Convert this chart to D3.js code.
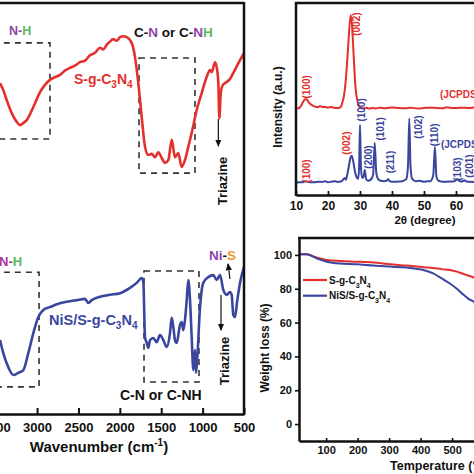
<!DOCTYPE html>
<html><head><meta charset="utf-8">
<script src="https://cdn.jsdelivr.net/npm/d3@7"></script>
<style>
body{margin:0;background:#fff}
svg{display:block}
text{font-family:"Liberation Sans",Arial,sans-serif;font-weight:bold}
</style>
</head><body>
<svg id="c" width="474" height="474"></svg>
<script>
// ---------- FTIR data ----------
const ftirTicks = [500,1000,1500,2000,2500,3000,3500,4000];
const ftirRedWn = [3448,3408,3367,3306,3250,3206,3160,3125,3045,2964,2900,2844,2780,2723,2660,2602,2540,2481,2420,2360,2300,2240,2200,2159,2120,2079,2040,1998,1960,1917,1857,1817,1777,1736,1696,1656,1615,1575,1535,1494,1454,1414,1373,1334,1294,1253,1213,1173,1132,1071,1011,951,911,890,850,830,810,798,781,757,709,669,629,590,548,500];
const ftirRedT  = [80.5,78.8,76.4,73.2,71.2,70.3,70.9,71.5,74.7,78.3,80.2,81.3,82.0,82.5,83.6,84.2,84.8,85.6,86.0,87.3,87.9,89.1,88.7,89.8,90.6,91.2,90.8,91.7,91.9,91.7,90.3,86.9,80.5,72.3,65.0,63.0,63.3,62.5,63.7,62.3,61.1,61.8,66.7,62.5,63.5,60.1,61.8,65.0,68.4,74.0,78.1,82.0,83.7,83.2,85.6,84.4,80.5,72.0,78.1,80.0,80.8,81.5,83.0,84.5,86.1,87.8];
const ftirBlueWn = [3448,3408,3348,3287,3227,3166,3106,3045,2985,2924,2844,2743,2642,2521,2421,2381,2340,2240,2119,1998,1877,1796,1736,1716,1696,1675,1656,1635,1595,1555,1515,1475,1434,1394,1374,1354,1334,1313,1273,1253,1233,1213,1192,1173,1152,1132,1112,1092,1080,1064,1031,992,931,871,830,790,750,709,669,649,629,609,581,548,500];
const ftirBlueT  = [18.0,14.8,11.4,9.5,10.0,10.7,14.8,19.7,23.6,25.3,26.0,26.8,27.3,27.7,28.0,27.0,27.7,28.5,29.0,29.4,30.7,31.9,33.1,32.1,18.7,17.3,16.1,18.0,18.5,17.5,19.2,18.0,16.3,19.7,23.4,21.2,18.0,17.3,21.7,22.4,20.4,22.9,27.7,32.6,27.7,18.7,10.7,15.6,10.0,13.9,26.0,31.9,33.3,33.8,32.6,33.8,30.2,29.0,29.7,29.0,24.1,23.6,27.7,31.9,35.8];

// ---------- XRD data ----------
const xrdTicks = [10,20,30,40,50,60,70,80];
const xrdRedTheta = [10,10.5,11,11.5,12,12.5,13,13.5,14,14.5,15,16,17,17.5,18,19,20,21,22,23,24,24.5,25,25.5,26,26.5,27.1,27.5,27.8,28.2,28.6,29.1,29.7,30.2,31,32,33,34,35,36,38,40,42,44,46,48,50,52,54,56,57,58,60,62,64,66,68,70];
const xrdRedI     = [0,0.3,0.5,1.5,3,4.5,5.2,4.7,3.5,2.6,2,1.2,1,1.5,1.2,1,0.8,1,0.6,0.5,1,3.5,7,14,25,38,49,44,35,22,11,5,1.5,0.5,0.3,0.6,0.2,0.5,0.3,0.6,0.4,0.8,0.5,0.4,0.6,0.3,0.5,0.7,0.5,0.4,0.9,0.6,0.5,0.7,0.5,0.8,0.6,0.7];
const xrdBlueTheta = [10,11,12,13,14,15,16,17,18,19,20,21,22,23,24,24.6,25.2,25.6,26,26.5,27,27.4,27.9,28.4,28.9,29.4,29.7,30,30.3,30.7,31.1,31.5,31.9,32.5,33.3,34.1,34.6,35.1,35.6,36.5,37.5,38.3,38.8,39.3,40.5,42,43.2,43.8,44.5,45,45.4,45.8,46.3,47.5,48.5,50,51,52,52.9,53.4,53.9,54.5,56,58,59.5,60.5,61,61.8,62.6,63.3,64,66,68,70];
const xrdBlueI     = [0,0.3,0.2,0.8,0.4,0.2,0.3,0.5,0.4,0.7,0.3,0.5,0.8,0.4,0.6,1.4,2.5,1.6,4,8.5,13,14,11,6,3,2,7,30,8,2.5,3,6.6,2,1,1.5,4,20.7,5,2,1,0.8,1,1.8,0.8,0.5,0.6,0.7,1.2,2,9,33.5,8,2,0.8,1,0.5,0.7,0.8,4,18.6,3,1,0.5,0.6,0.8,1.8,1,0.6,1.3,0.6,0.5,0.4,0.6,0.5];
const xrdOffsets = {red:44.8, blue:6.4};
const xrdRedLabels  = ["(100)","(002)"];
const xrdRedLabelTheta = [13.3,29.0];
const xrdRedLabelLevel = [56.3,89];
const xrdBlueLabels = ["(100)","(002)","(100)","(200)","(101)","(211)","(102)","(110)","(103)","(201)"];
const xrdBlueLabelTheta = [13.4,25.8,30.5,32.6,36.25,39.4,48.2,53.3,60.6,64.1];
const xrdBlueLabelLevel = [12.5,27,44.3,19.8,34.4,17.2,35.4,31.3,13.5,15.1];
const xrdBlueLabelRed = [true,true,false,false,false,false,false,false,false,false];

// ---------- TGA data ----------
const tgaXTicks = [100,200,300,400,500];
const tgaYTicks = [0,20,40,60,80,100];
const tgaTemp = [14,38,70,102,144,197,250,303,356,409,440,467,493,515,536,551,570,600];
const tgaRed  = [100.4,100.4,98.5,97,96.4,96,95.5,94.5,93.7,92.7,92.3,91.6,91.1,90.1,88.7,87.8,86.5,84];
const tgaBlue = [100.4,100.4,98,96,94.9,94.5,93.7,93.1,92.5,91.1,89.1,86.1,83.1,80,76.5,74.2,72.2,68];

// ---------- style ----------
const RED="#e4302c", BLUE="#3a469e", PURPLE="#8e44ad", GREEN="#5cb85c", ORANGE="#f0952e", MAG="#a8359c";
const svg = d3.select("#c");
const defs = svg.append("defs");
defs.append("marker").attr("id","arr").attr("viewBox","0 0 8 8").attr("refX",7).attr("refY",4)
  .attr("markerWidth",6).attr("markerHeight",6).attr("orient","auto")
  .append("path").attr("d","M0,0.5 L8,4 L0,7.5 Z").attr("fill","#111");

function chem(t, parts, subSize){
  parts.forEach(p=>{
    const ts = t.append("tspan").text(p.t);
    if(p.sub){ ts.attr("dy",4).attr("font-size",subSize); }
    else if(p.after){ ts.attr("dy",-4); }
    if(p.fill) ts.attr("fill",p.fill);
  });
}

// ================= FTIR panel =================
const xF = d3.scaleLinear().domain([4000,500]).range([-45.7,244]);
const yF = d3.scaleLinear().domain([0,100]).range([414,3]);
defs.append("clipPath").attr("id","clipF").append("rect").attr("x",-46).attr("y",3).attr("width",290).attr("height",411);
const gF = svg.append("g");
const lineF = d3.line().x(d=>xF(d[0])).y(d=>yF(d[1])).curve(d3.curveMonotoneX);

// dashed boxes (data coords)
const boxes = [[3800,2844,90.3,66.9],[1768,1092,86.6,58.6],[3800,2976,34.5,6.6],[1708,1044,34.8,7.8]];
gF.append("g").attr("clip-path","url(#clipF)").selectAll("rect").data(boxes).join("rect")
  .attr("x",d=>xF(d[0])).attr("y",d=>yF(d[2])).attr("width",d=>xF(d[1])-xF(d[0])).attr("height",d=>yF(d[3])-yF(d[2]))
  .attr("fill","none").attr("stroke","#333").attr("stroke-width",1.6).attr("stroke-dasharray","6,5");

const cF = gF.append("g").attr("clip-path","url(#clipF)");
cF.append("path").datum(ftirRedWn.map((w,i)=>[w,ftirRedT[i]])).attr("d",lineF)
  .attr("fill","none").attr("stroke",RED).attr("stroke-width",2.6).attr("stroke-linejoin","round");
cF.append("path").datum(ftirBlueWn.map((w,i)=>[w,ftirBlueT[i]])).attr("d",lineF)
  .attr("fill","none").attr("stroke",BLUE).attr("stroke-width",2.6).attr("stroke-linejoin","round");

// frame
gF.append("line").attr("x1",-46).attr("x2",244).attr("y1",3).attr("y2",3).attr("stroke","#111").attr("stroke-width",2.5);
gF.append("line").attr("x1",244).attr("x2",244).attr("y1",2).attr("y2",415).attr("stroke","#111").attr("stroke-width",2.5);
const axF = gF.append("g").attr("transform","translate(0,414)")
  .call(d3.axisBottom(xF).tickValues(ftirTicks).tickSizeInner(-6).tickSizeOuter(0).tickPadding(9).tickFormat(d3.format("d")));
axF.select(".domain").attr("stroke","#111").attr("stroke-width",2.5);
axF.selectAll(".tick line").attr("stroke","#111").attr("stroke-width",2);
axF.selectAll(".tick text").attr("font-size",13).attr("fill","#111").attr("font-family","Liberation Sans, Arial, sans-serif").attr("font-weight","bold");
const wt = gF.append("text").attr("x",99).attr("y",452).attr("text-anchor","middle").attr("font-size",15).attr("fill","#111");
wt.append("tspan").text("Wavenumber (cm");
wt.append("tspan").text("-1").attr("font-size",10).attr("dy",-6);
wt.append("tspan").text(")").attr("dy",6);

// FTIR annotations
let t;
t = gF.append("text").attr("x",9).attr("y",35).attr("font-size",12.5);
t.append("tspan").text("N").attr("fill",PURPLE); t.append("tspan").text("-").attr("fill",PURPLE); t.append("tspan").text("H").attr("fill",GREEN);
t = gF.append("text").attr("x",134).attr("y",37).attr("font-size",13.5).attr("fill","#111");
t.append("tspan").text("C-"); t.append("tspan").text("N").attr("fill",PURPLE); t.append("tspan").text(" or C-");
t.append("tspan").text("N").attr("fill",PURPLE); t.append("tspan").text("H").attr("fill",GREEN);
t = gF.append("text").attr("x",74).attr("y",84).attr("font-size",14).attr("fill",RED);
chem(t,[{t:"S-g-C"},{t:"3",sub:true},{t:"N",after:true},{t:"4",sub:true}],10);
gF.append("text").attr("transform","translate(226.5,181) rotate(-90)").attr("text-anchor","middle").attr("font-size",13).attr("fill","#111").text("Triazine");
gF.append("line").attr("x1",xF(810)).attr("x2",xF(810)).attr("y1",yF(72)+1).attr("y2",146).attr("stroke","#111").attr("stroke-width",1.2).attr("marker-end","url(#arr)");

t = gF.append("text").attr("x",-1).attr("y",266).attr("font-size",13);
t.append("tspan").text("N").attr("fill",MAG); t.append("tspan").text("-").attr("fill",MAG); t.append("tspan").text("H").attr("fill",GREEN);
t = gF.append("text").attr("x",49).attr("y",325).attr("font-size",14.5).attr("fill",BLUE);
chem(t,[{t:"NiS/S-g-C"},{t:"3",sub:true},{t:"N",after:true},{t:"4",sub:true}],10);
gF.append("text").attr("x",120).attr("y",400).attr("font-size",14).attr("fill","#111").text("C-N or C-NH");
t = gF.append("text").attr("x",209).attr("y",260).attr("font-size",13.5);
t.append("tspan").text("Ni").attr("fill",PURPLE); t.append("tspan").text("-").attr("fill","#111"); t.append("tspan").text("S").attr("fill",ORANGE);
gF.append("line").attr("x1",230).attr("x2",228).attr("y1",279).attr("y2",264).attr("stroke","#111").attr("stroke-width",1.2).attr("marker-end","url(#arr)");
gF.append("line").attr("x1",221).attr("x2",221).attr("y1",295).attr("y2",330).attr("stroke","#111").attr("stroke-width",1.2).attr("marker-end","url(#arr)");
gF.append("text").attr("transform","translate(229,361) rotate(-90)").attr("text-anchor","middle").attr("font-size",13).attr("fill","#111").text("Triazine");

// ================= XRD panel =================
const xX = d3.scaleLinear().domain([10,80]).range([296,520]);
const yX = d3.scaleLinear().domain([0,100]).range([195,3]);
const gX = svg.append("g");
const lineX = d3.line().x(d=>xX(d[0])).y(d=>yX(d[1]));
gX.append("path").datum(xrdRedTheta.map((v,i)=>[v,xrdRedI[i]+xrdOffsets.red])).attr("d",lineX.curve(d3.curveMonotoneX))
  .attr("fill","none").attr("stroke",RED).attr("stroke-width",2);
gX.append("path").datum(xrdBlueTheta.map((v,i)=>[v,xrdBlueI[i]+xrdOffsets.blue])).attr("d",lineX.curve(d3.curveMonotoneX))
  .attr("fill","none").attr("stroke",BLUE).attr("stroke-width",2);
gX.append("line").attr("x1",295).attr("x2",521).attr("y1",3).attr("y2",3).attr("stroke","#111").attr("stroke-width",2.5);
gX.append("line").attr("x1",296).attr("x2",296).attr("y1",2).attr("y2",196).attr("stroke","#111").attr("stroke-width",2.5);
const axX = gX.append("g").attr("transform","translate(0,195)")
  .call(d3.axisBottom(xX).tickValues(xrdTicks).tickSizeInner(-4).tickSizeOuter(0).tickPadding(6));
axX.select(".domain").attr("stroke","#111").attr("stroke-width",2.5);
axX.selectAll(".tick line").attr("stroke","#111").attr("stroke-width",1.8);
axX.selectAll(".tick text").attr("font-size",12).attr("fill","#111").attr("font-family","Liberation Sans, Arial, sans-serif").attr("font-weight","bold");
gX.append("text").attr("x",425).attr("y",224).attr("text-anchor","middle").attr("font-size",11.5).attr("fill","#111").text("2θ (degree)");
gX.append("text").attr("transform","translate(282,107) rotate(-90)").attr("text-anchor","middle").attr("font-size",12).attr("fill","#111").text("Intensity (a.u.)");
xrdRedLabels.forEach((s,i)=>{
  gX.append("text").attr("transform",`translate(${xX(xrdRedLabelTheta[i])},${yX(xrdRedLabelLevel[i])}) rotate(-90)`)
    .attr("text-anchor","middle").attr("dominant-baseline","central").attr("font-size",10).attr("fill",RED).text(s);
});
xrdBlueLabels.forEach((s,i)=>{
  gX.append("text").attr("transform",`translate(${xX(xrdBlueLabelTheta[i])},${yX(xrdBlueLabelLevel[i])}) rotate(-90)`)
    .attr("text-anchor","middle").attr("dominant-baseline","central").attr("font-size",10).attr("fill",xrdBlueLabelRed[i]?RED:BLUE).text(s);
});
gX.append("text").attr("x",xX(55)).attr("y",yX(52.6)+4).attr("font-size",10).attr("fill",RED).text("(JCPDS No. 87-1526)");
gX.append("text").attr("x",xX(55.3)).attr("y",yX(26.6)+4).attr("font-size",10).attr("fill",BLUE).text("(JCPDS No. 02-1280)");

// ================= TGA panel =================
const xT = d3.scaleLinear().domain([14,600]).range([299,483.6]);
const yT = d3.scaleLinear().domain([-10,110]).range([441,238]);
const gT = svg.append("g");
const lineT = d3.line().x(d=>xT(d[0])).y(d=>yT(d[1])).curve(d3.curveMonotoneX);
gT.append("path").datum(tgaTemp.map((v,i)=>[v,tgaRed[i]])).attr("d",lineT).attr("fill","none").attr("stroke",RED).attr("stroke-width",2);
gT.append("path").datum(tgaTemp.map((v,i)=>[v,tgaBlue[i]])).attr("d",lineT).attr("fill","none").attr("stroke",BLUE).attr("stroke-width",2);
gT.append("line").attr("x1",298).attr("x2",490).attr("y1",238).attr("y2",238).attr("stroke","#111").attr("stroke-width",2.5);
const axTy = gT.append("g").attr("transform","translate(299,0)")
  .call(d3.axisLeft(yT).tickValues(tgaYTicks).tickSizeInner(4).tickSizeOuter(0).tickPadding(3));
const axTx = gT.append("g").attr("transform","translate(0,441)")
  .call(d3.axisBottom(xT).tickValues(tgaXTicks).tickSizeInner(-3).tickSizeOuter(0).tickPadding(5));
[axTy,axTx].forEach(a=>{
  a.select(".domain").attr("stroke","#111").attr("stroke-width",2.5);
  a.selectAll(".tick line").attr("stroke","#111").attr("stroke-width",1.6);
  a.selectAll(".tick text").attr("font-size",11).attr("fill","#111").attr("font-family","Liberation Sans, Arial, sans-serif").attr("font-weight","bold");
});
gT.append("text").attr("x",390).attr("y",470).attr("font-size",12.5).attr("fill","#111").text("Temperature (°C)");
gT.append("text").attr("transform","translate(269,348) rotate(-90)").attr("text-anchor","middle").attr("font-size",12).attr("fill","#111").text("Weight loss (%)");
// legend
const legend = [{c:RED,parts:[{t:"S-g-C"},{t:"3",sub:true},{t:"N",after:true},{t:"4",sub:true}]},
                {c:BLUE,parts:[{t:"NiS/S-g-C"},{t:"3",sub:true},{t:"N",after:true},{t:"4",sub:true}]}];
legend.forEach((l,i)=>{
  const y = 280 + i*15.7;
  gT.append("line").attr("x1",303).attr("x2",327).attr("y1",y).attr("y2",y).attr("stroke",l.c).attr("stroke-width",2.2);
  const tt = gT.append("text").attr("x",329).attr("y",y+3.5).attr("font-size",10).attr("fill","#111");
  chem(tt,l.parts,7);
});
</script>
</body></html>
